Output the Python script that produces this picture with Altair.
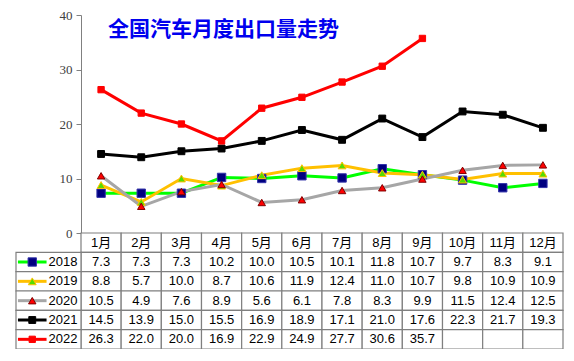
import altair as alt
import pandas as pd

months = ["1月", "2月", "3月", "4月", "5月", "6月", "7月", "8月", "9月", "10月", "11月", "12月"]
years = ["2018", "2019", "2020", "2021", "2022"]
v2018 = [7.3, 7.3, 7.3, 10.2, 10.0, 10.5, 10.1, 11.8, 10.7, 9.7, 8.3, 9.1]
v2019 = [8.8, 5.7, 10.0, 8.7, 10.6, 11.9, 12.4, 11.0, 10.7, 9.8, 10.9, 10.9]
v2020 = [10.5, 4.9, 7.6, 8.9, 5.6, 6.1, 7.8, 8.3, 9.9, 11.5, 12.4, 12.5]
v2021 = [14.5, 13.9, 15.0, 15.5, 16.9, 18.9, 17.1, 21.0, 17.6, 22.3, 21.7, 19.3]
v2022 = [26.3, 22.0, 20.0, 16.9, 22.9, 24.9, 27.7, 30.6, 35.7]
y_ticks = [0, 10, 20, 30, 40]
title_text = "全国汽车月度出口量走势"

series_values = dict(zip(years, [v2018, v2019, v2020, v2021, v2022]))

line_colors = ["#00FF00", "#FFC000", "#A6A6A6", "#000000", "#FF0000"]
marker_shapes = ["square", "triangle-up", "triangle-up", "square", "square"]
marker_fills = ["#000080", "#55DD00", "#FF0000", "#000000", "#FF0000"]
marker_strokes = ["#3333AA", "#FFC000", "#800000", "#000000", "#FF0000"]
marker_sizes = [70, 40, 85, 70, 85]
line_widths = [3, 3, 2, 2, 2.5]

rows_order = ["header"] + years

# ---- data tables built from the arrays ----
long_rows = []
for yr in years:
    for i, v in enumerate(series_values[yr]):
        long_rows.append({"month": months[i], "series": yr, "value": v})
df = pd.DataFrame(long_rows)

cells = pd.DataFrame([{"month": m, "row": r} for r in rows_order for m in months])
text_rows = [{"month": m, "row": "header", "label": m} for m in months]
for yr in years:
    for i, v in enumerate(series_values[yr]):
        text_rows.append({"month": months[i], "row": yr, "label": f"{v:.1f}"})
df_text = pd.DataFrame(text_rows)
df_leg = pd.DataFrame({"row": years, "series": years})

PW, PH, TH = 482, 218, 116
table_range = [PH, PH + TH]
FONT = "Liberation Sans, Noto Sans CJK SC"
GRID = "#7F7F7F"

color_scale = alt.Scale(domain=years, range=line_colors)
shape_scale = alt.Scale(domain=years, range=marker_shapes)
fill_scale = alt.Scale(domain=years, range=marker_fills)
stroke_scale = alt.Scale(domain=years, range=marker_strokes)
size_scale = alt.Scale(domain=years, range=marker_sizes)
sw_scale = alt.Scale(domain=years, range=line_widths)

x_point = alt.X("month:N", sort=months, scale=alt.Scale(type="point", padding=0.5, domain=months), axis=None)
x_band = alt.X("month:N", sort=months, scale=alt.Scale(type="band", paddingInner=0, paddingOuter=0, domain=months), axis=None)
y_rows = alt.Y("row:N", sort=rows_order, scale=alt.Scale(type="band", domain=rows_order, range=table_range, paddingInner=0, paddingOuter=0), axis=None)

base = alt.Chart(df)
lines = base.mark_line().encode(
    x=x_point,
    y=alt.Y("value:Q", scale=alt.Scale(domain=[0, 40]),
            axis=alt.Axis(values=y_ticks, grid=False, title=None, domainColor="#808080",
                          tickColor="#808080", tickSize=5, labelColor="#404040",
                          labelFont="Liberation Serif", labelFontSize=13, labelPadding=4)),
    color=alt.Color("series:N", scale=color_scale, legend=None),
    strokeWidth=alt.StrokeWidth("series:N", scale=sw_scale, legend=None),
    detail="series:N",
)
points = base.mark_point(filled=True, opacity=1, strokeWidth=1).encode(
    x=x_point,
    y="value:Q",
    shape=alt.Shape("series:N", scale=shape_scale, legend=None),
    fill=alt.Fill("series:N", scale=fill_scale, legend=None),
    stroke=alt.Stroke("series:N", scale=stroke_scale, legend=None),
    size=alt.Size("series:N", scale=size_scale, legend=None),
)
lines_layer = alt.layer(lines, points)

cell_rects = alt.Chart(cells).mark_rect(fill="white", stroke=GRID, strokeWidth=1.2).encode(
    x=x_band, y=y_rows)
cell_text = alt.Chart(df_text).mark_text(font=FONT, fontSize=13, color="#000000", baseline="middle").encode(
    x=x_band, y=y_rows, text="label:N")
table_layer = alt.layer(cell_rects, cell_text)

lx = alt.Scale(domain=[0, 1], range=[-65, 0])
leg_base = alt.Chart(df_leg)
leg_rect = leg_base.mark_rect(fill="white", stroke=GRID, strokeWidth=1.2).encode(
    x=alt.X(datum=0, scale=lx, axis=None), x2=alt.X2(datum=1), y=y_rows)
leg_rule = leg_base.mark_rule().encode(
    x=alt.X(datum=0.03, scale=lx, axis=None), x2=alt.X2(datum=0.47), y=y_rows,
    color=alt.Color("series:N", scale=color_scale, legend=None),
    strokeWidth=alt.StrokeWidth("series:N", scale=sw_scale, legend=None))
leg_pt = leg_base.mark_point(filled=True, opacity=1, strokeWidth=1).encode(
    x=alt.X(datum=0.25, scale=lx, axis=None), y=y_rows,
    shape=alt.Shape("series:N", scale=shape_scale, legend=None),
    fill=alt.Fill("series:N", scale=fill_scale, legend=None),
    stroke=alt.Stroke("series:N", scale=stroke_scale, legend=None),
    size=alt.Size("series:N", scale=size_scale, legend=None))
leg_text = leg_base.mark_text(font=FONT, fontSize=13, color="#000000", align="left", baseline="middle").encode(
    x=alt.X(datum=0.5, scale=lx, axis=None), y=y_rows, text="series:N")
legend_layer = alt.layer(leg_rect, leg_rule, leg_pt, leg_text)

chart = alt.layer(lines_layer, table_layer, legend_layer).resolve_scale(
    x="independent", y="independent"
).properties(
    width=PW, height=PH,
    autosize="none",
    padding={"left": 73, "top": 7, "right": 1, "bottom": TH},
    background="white",
    title=alt.TitleParams(title_text, anchor="start", frame="group", orient="top",
                          offset=0, dx=27, dy=31, baseline="top",
                          font="Noto Sans CJK SC", fontSize=21, fontWeight="bold",
                          color="#0000EE"),
).configure_view(stroke=None)

chart.save("out.html", embed_options={"renderer": "svg", "actions": False})
